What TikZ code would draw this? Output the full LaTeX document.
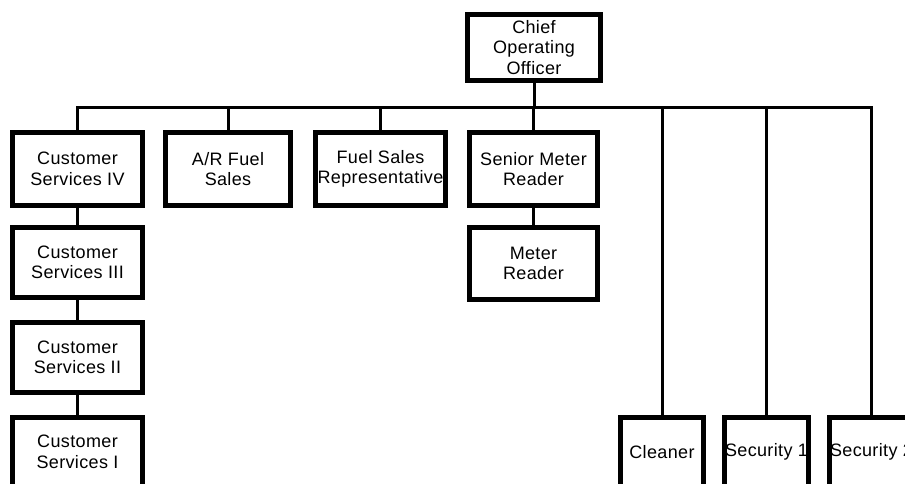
\documentclass[tikz,border=0pt]{standalone}
\usepackage{fontspec}
\setmainfont{Liberation Sans}
\newfontfamily\chartfont{Liberation Sans}[LetterSpace=2]

\begin{document}
\begin{tikzpicture}[x=1pt,y=-1pt]
        \tikzstyle{every node}=[font=\chartfont\fontsize{18}{20.5}\selectfont]
        \tikzstyle{postbox}=[draw, line width=5pt, align=center, inner sep=0pt,
            minimum width=130pt, minimum height=73pt]
        \tikzstyle{link}=[line width=3pt]

        \clip (0,0) rectangle (905,484);

        % top of the chart
        \node[postbox, minimum width=133pt, minimum height=66pt] (coo) at (534,47.5)
            {Chief\\Operating\\Officer};
        \coordinate (bus) at (534,108);

        % first row
        \node[postbox] (csiv) at (77.5,169) {Customer\\Services IV};
        \node[postbox, minimum width=125pt] (arfuel) at (228,169) {A/R Fuel\\Sales};
        \node[postbox] (fuelsales) at (380.5,169) {Fuel Sales\\Representative};
        \node[postbox, minimum width=128pt] (senior) at (533.5,169) {Senior Meter\\Reader};

        % columns below
        \node[postbox, minimum width=128pt, minimum height=72pt] (meter) at (533.5,263.5) {Meter\\Reader};
        \node[postbox, minimum height=70pt] (csiii) at (77.5,262.5) {Customer\\Services III};
        \node[postbox, minimum height=70pt] (csii) at (77.5,357.5) {Customer\\Services II};
        \node[postbox, minimum height=70pt] (csi) at (77.5,452) {Customer\\Services I};

        % bottom row
        \node[postbox, minimum width=83pt, minimum height=70pt] (cleaner) at (662,452) {Cleaner};
        \node[postbox, minimum width=84pt, minimum height=70pt] (sec1) at (766.5,452) {Security 1};
        \node[postbox, minimum width=84pt, minimum height=70pt] (sec2) at (871.5,452) {Security 2};

        % connectors
        \draw[link] (coo.south) -- (bus);
        \draw[link] (csiv.north) |- (bus) -| (sec2.north);
        \foreach \n in {arfuel,fuelsales,senior,cleaner,sec1}
            \draw[link] (\n.north) -- (\n.north |- bus);
        \draw[link] (csiv.south) -- (csiii.north);
        \draw[link] (csiii.south) -- (csii.north);
        \draw[link] (csii.south) -- (csi.north);
        \draw[link] (senior.south) -- (meter.north);
    \end{tikzpicture}
\end{document}
